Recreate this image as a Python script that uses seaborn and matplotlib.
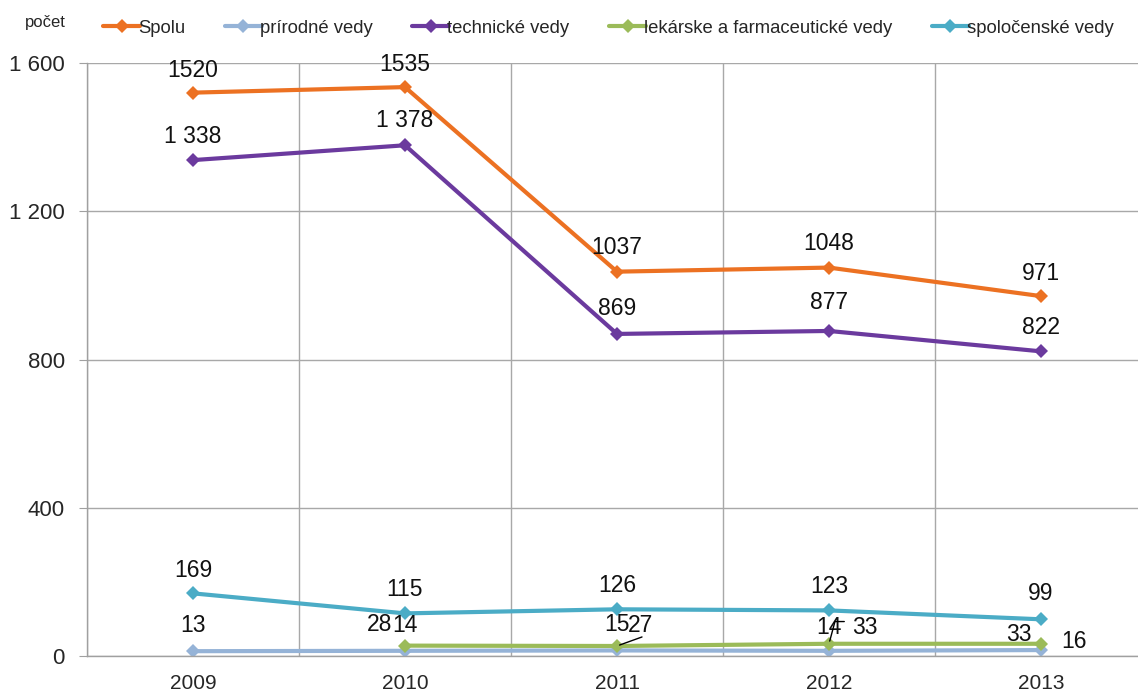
import numpy as np
import pandas as pd
import matplotlib
matplotlib.use("Agg")
import matplotlib.pyplot as plt
import seaborn as sns

years = ["2009", "2010", "2011", "2012", "2013"]
series_names = ["Spolu", "prírodné vedy", "technické vedy",
                "lekárske a farmaceutické vedy", "spoločenské vedy"]
spolu = [1520, 1535, 1037, 1048, 971]
prirodne = [13, 14, 15, 14, 16]
technicke = [1338, 1378, 869, 877, 822]
lekarske = [np.nan, 28, 27, 33, 33]
spolocenske = [169, 115, 126, 123, 99]
y_ticks = [0, 400, 800, 1200, 1600]
y_tick_labels = ["0", "400", "800", "1 200", "1 600"]

colors = ["#EC7122", "#95B3D7", "#6B3A9E", "#9BBB59", "#4BACC6"]
values = [spolu, prirodne, technicke, lekarske, spolocenske]

rows = []
for name, vals in zip(series_names, values):
    for i, v in enumerate(vals):
        rows.append({"x": i, "value": v, "series": name})
df = pd.DataFrame(rows)

sns.set_style("white")
plt.rcParams["font.family"] = ["Liberation Sans", "DejaVu Sans"]

fig = plt.figure(figsize=(11.38, 6.91), dpi=100)
ax = fig.add_axes([87 / 1138, 1 - 656 / 691, 1060 / 1138, (656 - 63) / 691])

sns.lineplot(data=df, x="x", y="value", hue="series", hue_order=series_names,
             palette=colors, style="series", markers=["D"] * 5, dashes=False,
             markersize=7, linewidth=3, markeredgewidth=0, ax=ax, legend=True)

ax.set_xlim(-0.5, 4.5)
ax.set_ylim(0, 1600)
ax.set_yticks(y_ticks)
ax.set_yticklabels(y_tick_labels, fontsize=16)
ax.set_xticks(range(len(years)))
ax.set_xticklabels(years, fontsize=15)
ax.set_xticks(np.arange(-0.5, 5, 1), minor=True)
ax.tick_params(axis="x", which="major", length=0, pad=13)
ax.tick_params(axis="x", which="minor", length=8, color="#A0A0A0", direction="out")
ax.tick_params(axis="y", length=6, color="#A0A0A0", direction="out", left=True, pad=10)
ax.grid(True, axis="y", color="#A8A8A8", linewidth=1)
ax.grid(True, axis="x", which="minor", color="#A8A8A8", linewidth=1)
ax.set_axisbelow(True)
ax.set_xlabel("")
ax.set_ylabel("")
for s in ["top", "right"]:
    ax.spines[s].set_visible(False)
for s in ["left", "bottom"]:
    ax.spines[s].set_color("#A0A0A0")
    ax.spines[s].set_linewidth(1)


# data labels (offsets in points)
def fmt_plain(v):
    return str(int(v))


def fmt_space(v):
    return f"{int(v):,}".replace(",", " ")


label_offsets = {
    "Spolu": [(0, 16), (0, 16), (0, 17.5), (0, 17), (0, 16.5)],
    "technické vedy": [(0, 17), (0, 17.5), (0, 18.5), (0, 20.5), (0, 17)],
    "spoločenské vedy": [(0, 16.5), (0, 17), (0, 17), (0, 17.5), (0, 18.5)],
    "prírodné vedy": [(0, 18.5), (0, 18.5), (0, 18.5), (0, 17), (24, 6.5)],
    "lekárske a farmaceutické vedy": [None, (-18, 15), (17, 15), (26, 12), (-16, 7)],
}
formatters = {"technické vedy": fmt_space}
for name, vals in zip(series_names, values):
    f = formatters.get(name, fmt_plain)
    for i, v in enumerate(vals):
        off = label_offsets[name][i]
        if off is None or np.isnan(v):
            continue
        ax.annotate(f(v), (i, v), xytext=off, textcoords="offset points",
                    ha="center", va="center", fontsize=16.5, color="#111111")

# leader lines for the crowded small labels
ax.annotate("", (2, lekarske[2]), xytext=(18, 6.5), textcoords="offset points",
            arrowprops=dict(arrowstyle="-", color="black", lw=1, shrinkA=0, shrinkB=2))
ax.annotate("", (3, lekarske[3]), xytext=(11, 16), textcoords="offset points",
            arrowprops=dict(arrowstyle="-", color="black", lw=1, shrinkA=0, shrinkB=2,
                            connectionstyle="angle,angleA=0,angleB=75,rad=0"))

handles, labels = ax.get_legend_handles_labels()
ax.get_legend().remove()
fig.legend(handles, labels, loc="center left", bbox_to_anchor=(0.0842, 0.959),
           ncol=5, frameon=False, fontsize=13.3, handlelength=2.0,
           handletextpad=-0.12, columnspacing=2.16, borderaxespad=0)
fig.text(25 / 1138, 1 - 22 / 691, "počet", fontsize=12, va="center", ha="left")

fig.savefig("out.png", dpi=100)
